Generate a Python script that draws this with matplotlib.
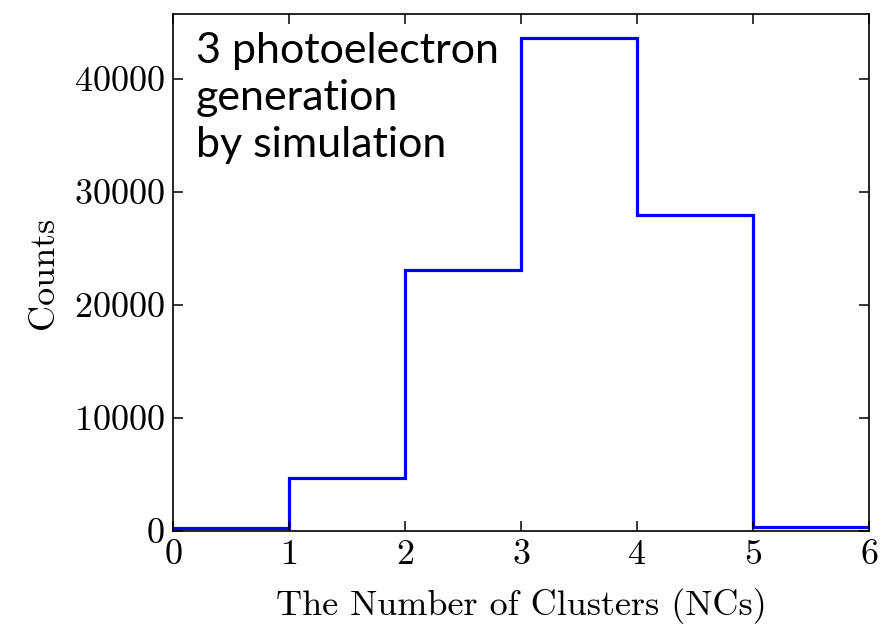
import numpy as np
import matplotlib.pyplot as plt

# Cluster-count histogram (simulated, 3 photoelectrons)
edges = [0, 1, 2, 3, 4, 5, 6]
counts = [270, 4650, 23100, 43600, 28000, 330]

plt.rcParams['font.family'] = 'serif'
plt.rcParams['font.serif'] = ['cmr10']
plt.rcParams['mathtext.fontset'] = 'cm'
plt.rcParams['axes.formatter.use_mathtext'] = True

fig = plt.figure(figsize=(8.84, 6.32), dpi=100)
ax = fig.add_axes([0.1957, 0.1598, 0.7873, 0.8184])

ax.stairs(counts, edges, color='blue', linewidth=2.3)

ax.set_xlim(0, 6)
ax.set_ylim(0, max(counts) * 1.05)
ax.set_xticks(range(0, 7))
ax.set_yticks([0, 10000, 20000, 30000, 40000])

ax.tick_params(direction='in', top=True, right=True, length=7, width=1.1,
               labelsize=26, pad=6)
for s in ax.spines.values():
    s.set_linewidth(1.2)

ax.set_xlabel('The Number of Clusters (NCs)', fontsize=26, labelpad=12)
ax.set_ylabel('Counts', fontsize=26, labelpad=10)

ax.text(0.033, 0.965, '3 photoelectron\ngeneration\nby simulation',
        transform=ax.transAxes, ha='left', va='top', fontsize=31,
        family='Lato', linespacing=1.3)

fig.savefig('out.png', dpi=100)
